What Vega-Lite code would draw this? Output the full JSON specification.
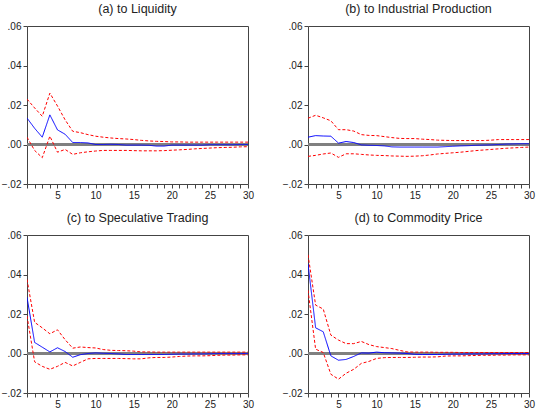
{
 "$schema": "https://vega.github.io/schema/vega-lite/v6.json",
 "padding": {"left": 0, "top": 2, "right": 0, "bottom": 0},
 "config": {
  "font": "Liberation Sans",
  "view": {"stroke": "#444", "strokeWidth": 1},
  "axis": {"grid": false, "title": null, "domain": false, "tickColor": "#444", "tickSize": 4, "labelColor": "#222", "labelFontSize": 10, "labelPadding": 2, "labelOverlap": false}
 },
 "data": {"values": [
  {"p":"(a) to Liquidity","t":1,"irf":0.0134,"hi":0.0230,"lo":0.0037},
  {"p":"(a) to Liquidity","t":2,"irf":0.0082,"hi":0.0185,"lo":-0.0030},
  {"p":"(a) to Liquidity","t":3,"irf":0.0037,"hi":0.0143,"lo":-0.0067},
  {"p":"(a) to Liquidity","t":4,"irf":0.0150,"hi":0.0260,"lo":0.0042},
  {"p":"(a) to Liquidity","t":5,"irf":0.0074,"hi":0.0195,"lo":-0.0039},
  {"p":"(a) to Liquidity","t":6,"irf":0.0052,"hi":0.0125,"lo":-0.0025},
  {"p":"(a) to Liquidity","t":7,"irf":0.0010,"hi":0.0067,"lo":-0.0050},
  {"p":"(a) to Liquidity","t":8,"irf":0.0010,"hi":0.0060,"lo":-0.0042},
  {"p":"(a) to Liquidity","t":9,"irf":0.0008,"hi":0.0050,"lo":-0.0037},
  {"p":"(a) to Liquidity","t":10,"irf":0.0000,"hi":0.0042,"lo":-0.0033},
  {"p":"(a) to Liquidity","t":11,"irf":0.0000,"hi":0.0037,"lo":-0.0030},
  {"p":"(a) to Liquidity","t":12,"irf":0.0001,"hi":0.0033,"lo":-0.0030},
  {"p":"(a) to Liquidity","t":13,"irf":0.0000,"hi":0.0030,"lo":-0.0030},
  {"p":"(a) to Liquidity","t":14,"irf":-0.0003,"hi":0.0028,"lo":-0.0030},
  {"p":"(a) to Liquidity","t":15,"irf":-0.0003,"hi":0.0025,"lo":-0.0031},
  {"p":"(a) to Liquidity","t":16,"irf":-0.0003,"hi":0.0021,"lo":-0.0032},
  {"p":"(a) to Liquidity","t":17,"irf":-0.0004,"hi":0.0018,"lo":-0.0032},
  {"p":"(a) to Liquidity","t":18,"irf":-0.0008,"hi":0.0016,"lo":-0.0032},
  {"p":"(a) to Liquidity","t":19,"irf":-0.0008,"hi":0.0015,"lo":-0.0031},
  {"p":"(a) to Liquidity","t":20,"irf":-0.0003,"hi":0.0013,"lo":-0.0029},
  {"p":"(a) to Liquidity","t":21,"irf":-0.0003,"hi":0.0013,"lo":-0.0027},
  {"p":"(a) to Liquidity","t":22,"irf":-0.0003,"hi":0.0012,"lo":-0.0025},
  {"p":"(a) to Liquidity","t":23,"irf":-0.0003,"hi":0.0012,"lo":-0.0022},
  {"p":"(a) to Liquidity","t":24,"irf":-0.0003,"hi":0.0012,"lo":-0.0020},
  {"p":"(a) to Liquidity","t":25,"irf":-0.0001,"hi":0.0012,"lo":-0.0018},
  {"p":"(a) to Liquidity","t":26,"irf":-0.0001,"hi":0.0012,"lo":-0.0016},
  {"p":"(a) to Liquidity","t":27,"irf":-0.0001,"hi":0.0012,"lo":-0.0015},
  {"p":"(a) to Liquidity","t":28,"irf":-0.0001,"hi":0.0012,"lo":-0.0014},
  {"p":"(a) to Liquidity","t":29,"irf":0.0000,"hi":0.0012,"lo":-0.0012},
  {"p":"(a) to Liquidity","t":30,"irf":0.0000,"hi":0.0012,"lo":-0.0011},
  {"p":"(b) to Industrial Production","t":1,"irf":0.0037,"hi":0.0133,"lo":-0.0060},
  {"p":"(b) to Industrial Production","t":2,"irf":0.0045,"hi":0.0148,"lo":-0.0055},
  {"p":"(b) to Industrial Production","t":3,"irf":0.0043,"hi":0.0135,"lo":-0.0048},
  {"p":"(b) to Industrial Production","t":4,"irf":0.0042,"hi":0.0120,"lo":-0.0043},
  {"p":"(b) to Industrial Production","t":5,"irf":0.0007,"hi":0.0075,"lo":-0.0065},
  {"p":"(b) to Industrial Production","t":6,"irf":0.0015,"hi":0.0075,"lo":-0.0047},
  {"p":"(b) to Industrial Production","t":7,"irf":0.0010,"hi":0.0068,"lo":-0.0047},
  {"p":"(b) to Industrial Production","t":8,"irf":-0.0002,"hi":0.0050,"lo":-0.0050},
  {"p":"(b) to Industrial Production","t":9,"irf":-0.0004,"hi":0.0046,"lo":-0.0053},
  {"p":"(b) to Industrial Production","t":10,"irf":-0.0005,"hi":0.0045,"lo":-0.0055},
  {"p":"(b) to Industrial Production","t":11,"irf":-0.0007,"hi":0.0040,"lo":-0.0056},
  {"p":"(b) to Industrial Production","t":12,"irf":-0.0012,"hi":0.0035,"lo":-0.0058},
  {"p":"(b) to Industrial Production","t":13,"irf":-0.0013,"hi":0.0031,"lo":-0.0059},
  {"p":"(b) to Industrial Production","t":14,"irf":-0.0013,"hi":0.0030,"lo":-0.0060},
  {"p":"(b) to Industrial Production","t":15,"irf":-0.0013,"hi":0.0030,"lo":-0.0059},
  {"p":"(b) to Industrial Production","t":16,"irf":-0.0013,"hi":0.0027,"lo":-0.0057},
  {"p":"(b) to Industrial Production","t":17,"irf":-0.0013,"hi":0.0025,"lo":-0.0053},
  {"p":"(b) to Industrial Production","t":18,"irf":-0.0013,"hi":0.0022,"lo":-0.0048},
  {"p":"(b) to Industrial Production","t":19,"irf":-0.0011,"hi":0.0021,"lo":-0.0045},
  {"p":"(b) to Industrial Production","t":20,"irf":-0.0009,"hi":0.0020,"lo":-0.0042},
  {"p":"(b) to Industrial Production","t":21,"irf":-0.0007,"hi":0.0020,"lo":-0.0039},
  {"p":"(b) to Industrial Production","t":22,"irf":-0.0006,"hi":0.0020,"lo":-0.0035},
  {"p":"(b) to Industrial Production","t":23,"irf":-0.0004,"hi":0.0020,"lo":-0.0031},
  {"p":"(b) to Industrial Production","t":24,"irf":-0.0003,"hi":0.0020,"lo":-0.0028},
  {"p":"(b) to Industrial Production","t":25,"irf":-0.0002,"hi":0.0022,"lo":-0.0025},
  {"p":"(b) to Industrial Production","t":26,"irf":0.0000,"hi":0.0025,"lo":-0.0022},
  {"p":"(b) to Industrial Production","t":27,"irf":0.0002,"hi":0.0025,"lo":-0.0019},
  {"p":"(b) to Industrial Production","t":28,"irf":0.0003,"hi":0.0025,"lo":-0.0017},
  {"p":"(b) to Industrial Production","t":29,"irf":0.0004,"hi":0.0025,"lo":-0.0015},
  {"p":"(b) to Industrial Production","t":30,"irf":0.0004,"hi":0.0025,"lo":-0.0013},
  {"p":"(c) to Speculative Trading","t":1,"irf":0.0285,"hi":0.0375,"lo":0.0190},
  {"p":"(c) to Speculative Trading","t":2,"irf":0.0056,"hi":0.0158,"lo":-0.0042},
  {"p":"(c) to Speculative Trading","t":3,"irf":0.0032,"hi":0.0130,"lo":-0.0065},
  {"p":"(c) to Speculative Trading","t":4,"irf":0.0008,"hi":0.0100,"lo":-0.0080},
  {"p":"(c) to Speculative Trading","t":5,"irf":0.0029,"hi":0.0120,"lo":-0.0065},
  {"p":"(c) to Speculative Trading","t":6,"irf":0.0010,"hi":0.0070,"lo":-0.0045},
  {"p":"(c) to Speculative Trading","t":7,"irf":-0.0019,"hi":0.0027,"lo":-0.0063},
  {"p":"(c) to Speculative Trading","t":8,"irf":-0.0006,"hi":0.0033,"lo":-0.0045},
  {"p":"(c) to Speculative Trading","t":9,"irf":0.0000,"hi":0.0030,"lo":-0.0027},
  {"p":"(c) to Speculative Trading","t":10,"irf":0.0003,"hi":0.0028,"lo":-0.0025},
  {"p":"(c) to Speculative Trading","t":11,"irf":0.0001,"hi":0.0020,"lo":-0.0025},
  {"p":"(c) to Speculative Trading","t":12,"irf":0.0000,"hi":0.0016,"lo":-0.0025},
  {"p":"(c) to Speculative Trading","t":13,"irf":-0.0002,"hi":0.0015,"lo":-0.0025},
  {"p":"(c) to Speculative Trading","t":14,"irf":-0.0005,"hi":0.0014,"lo":-0.0026},
  {"p":"(c) to Speculative Trading","t":15,"irf":-0.0005,"hi":0.0012,"lo":-0.0027},
  {"p":"(c) to Speculative Trading","t":16,"irf":-0.0005,"hi":0.0008,"lo":-0.0027},
  {"p":"(c) to Speculative Trading","t":17,"irf":-0.0005,"hi":0.0008,"lo":-0.0022},
  {"p":"(c) to Speculative Trading","t":18,"irf":-0.0005,"hi":0.0007,"lo":-0.0020},
  {"p":"(c) to Speculative Trading","t":19,"irf":-0.0005,"hi":0.0007,"lo":-0.0020},
  {"p":"(c) to Speculative Trading","t":20,"irf":-0.0004,"hi":0.0007,"lo":-0.0018},
  {"p":"(c) to Speculative Trading","t":21,"irf":-0.0003,"hi":0.0007,"lo":-0.0015},
  {"p":"(c) to Speculative Trading","t":22,"irf":-0.0003,"hi":0.0007,"lo":-0.0013},
  {"p":"(c) to Speculative Trading","t":23,"irf":-0.0002,"hi":0.0007,"lo":-0.0012},
  {"p":"(c) to Speculative Trading","t":24,"irf":-0.0002,"hi":0.0007,"lo":-0.0012},
  {"p":"(c) to Speculative Trading","t":25,"irf":-0.0001,"hi":0.0007,"lo":-0.0011},
  {"p":"(c) to Speculative Trading","t":26,"irf":0.0000,"hi":0.0007,"lo":-0.0009},
  {"p":"(c) to Speculative Trading","t":27,"irf":0.0000,"hi":0.0007,"lo":-0.0008},
  {"p":"(c) to Speculative Trading","t":28,"irf":0.0000,"hi":0.0007,"lo":-0.0008},
  {"p":"(c) to Speculative Trading","t":29,"irf":0.0000,"hi":0.0007,"lo":-0.0007},
  {"p":"(c) to Speculative Trading","t":30,"irf":0.0000,"hi":0.0007,"lo":-0.0007},
  {"p":"(d) to Commodity Price","t":1,"irf":0.0454,"hi":0.0500,"lo":0.0320},
  {"p":"(d) to Commodity Price","t":2,"irf":0.0130,"hi":0.0245,"lo":0.0022},
  {"p":"(d) to Commodity Price","t":3,"irf":0.0110,"hi":0.0225,"lo":0.0005},
  {"p":"(d) to Commodity Price","t":4,"irf":-0.0012,"hi":0.0093,"lo":-0.0105},
  {"p":"(d) to Commodity Price","t":5,"irf":-0.0034,"hi":0.0068,"lo":-0.0130},
  {"p":"(d) to Commodity Price","t":6,"irf":-0.0030,"hi":0.0050,"lo":-0.0100},
  {"p":"(d) to Commodity Price","t":7,"irf":-0.0015,"hi":0.0050,"lo":-0.0080},
  {"p":"(d) to Commodity Price","t":8,"irf":0.0003,"hi":0.0061,"lo":-0.0050},
  {"p":"(d) to Commodity Price","t":9,"irf":0.0002,"hi":0.0045,"lo":-0.0040},
  {"p":"(d) to Commodity Price","t":10,"irf":0.0007,"hi":0.0035,"lo":-0.0025},
  {"p":"(d) to Commodity Price","t":11,"irf":0.0004,"hi":0.0030,"lo":-0.0021},
  {"p":"(d) to Commodity Price","t":12,"irf":0.0003,"hi":0.0025,"lo":-0.0020},
  {"p":"(d) to Commodity Price","t":13,"irf":0.0002,"hi":0.0016,"lo":-0.0020},
  {"p":"(d) to Commodity Price","t":14,"irf":0.0000,"hi":0.0008,"lo":-0.0020},
  {"p":"(d) to Commodity Price","t":15,"irf":-0.0004,"hi":0.0007,"lo":-0.0019},
  {"p":"(d) to Commodity Price","t":16,"irf":-0.0005,"hi":0.0007,"lo":-0.0018},
  {"p":"(d) to Commodity Price","t":17,"irf":-0.0005,"hi":0.0007,"lo":-0.0018},
  {"p":"(d) to Commodity Price","t":18,"irf":-0.0005,"hi":0.0006,"lo":-0.0017},
  {"p":"(d) to Commodity Price","t":19,"irf":-0.0004,"hi":0.0006,"lo":-0.0013},
  {"p":"(d) to Commodity Price","t":20,"irf":-0.0003,"hi":0.0006,"lo":-0.0012},
  {"p":"(d) to Commodity Price","t":21,"irf":-0.0003,"hi":0.0005,"lo":-0.0012},
  {"p":"(d) to Commodity Price","t":22,"irf":-0.0002,"hi":0.0005,"lo":-0.0011},
  {"p":"(d) to Commodity Price","t":23,"irf":-0.0002,"hi":0.0005,"lo":-0.0010},
  {"p":"(d) to Commodity Price","t":24,"irf":-0.0002,"hi":0.0005,"lo":-0.0009},
  {"p":"(d) to Commodity Price","t":25,"irf":-0.0001,"hi":0.0005,"lo":-0.0009},
  {"p":"(d) to Commodity Price","t":26,"irf":-0.0001,"hi":0.0005,"lo":-0.0008},
  {"p":"(d) to Commodity Price","t":27,"irf":0.0000,"hi":0.0005,"lo":-0.0008},
  {"p":"(d) to Commodity Price","t":28,"irf":0.0000,"hi":0.0005,"lo":-0.0007},
  {"p":"(d) to Commodity Price","t":29,"irf":0.0000,"hi":0.0005,"lo":-0.0007},
  {"p":"(d) to Commodity Price","t":30,"irf":0.0000,"hi":0.0005,"lo":-0.0007}
 ]},
 "transform": [{"fold": ["irf", "hi", "lo"], "as": ["s", "v"]}],
 "facet": {"field": "p", "type": "nominal", "header": {"title": null, "labelFontSize": 12.5, "labelColor": "#222", "labelPadding": 6}},
 "columns": 2,
 "spacing": {"row": 10, "column": 26},
 "resolve": {"axis": {"x": "independent", "y": "independent"}},
 "spec": {
  "width": 221,
  "height": 158,
  "layer": [
   {"mark": {"type": "rule", "color": "#808080", "strokeWidth": 1.6},
    "encoding": {"y": {"datum": 0, "type": "quantitative", "scale": {"domain": [-0.02, 0.06], "nice": false},
       "axis": {"values": [-0.02, 0, 0.02, 0.04, 0.06], "labelExpr": "replace(format(datum.value, '.2f'), '0.', '.')", "labelOverlap": false, "labelBound": false, "labelFlush": false}}}},
   {"mark": {"type": "line", "strokeWidth": 1, "clip": true},
    "encoding": {
     "x": {"field": "t", "type": "quantitative", "scale": {"domain": [1, 30], "nice": false, "zero": false},
       "axis": {"values": [1,2,3,4,5,6,7,8,9,10,11,12,13,14,15,16,17,18,19,20,21,22,23,24,25,26,27,28,29,30], "labelExpr": "datum.value % 5 == 0 ? datum.value : ''", "labelBound": false, "labelFlush": false, "labelOverlap": false}},
     "y": {"field": "v", "type": "quantitative", "scale": {"domain": [-0.02, 0.06], "nice": false},
       "axis": {"values": [-0.02, 0, 0.02, 0.04, 0.06], "labelExpr": "replace(format(datum.value, '.2f'), '0.', '.')", "labelOverlap": false, "labelBound": false, "labelFlush": false}},
     "color": {"field": "s", "type": "nominal", "scale": {"domain": ["irf", "hi", "lo"], "range": ["#0000ff", "#ff0000", "#ff0000"]}, "legend": null},
     "strokeDash": {"field": "s", "type": "nominal", "scale": {"domain": ["irf", "hi", "lo"], "range": [[1, 0], [3, 2], [3, 2]]}, "legend": null}
    }}
  ]
 }
}
